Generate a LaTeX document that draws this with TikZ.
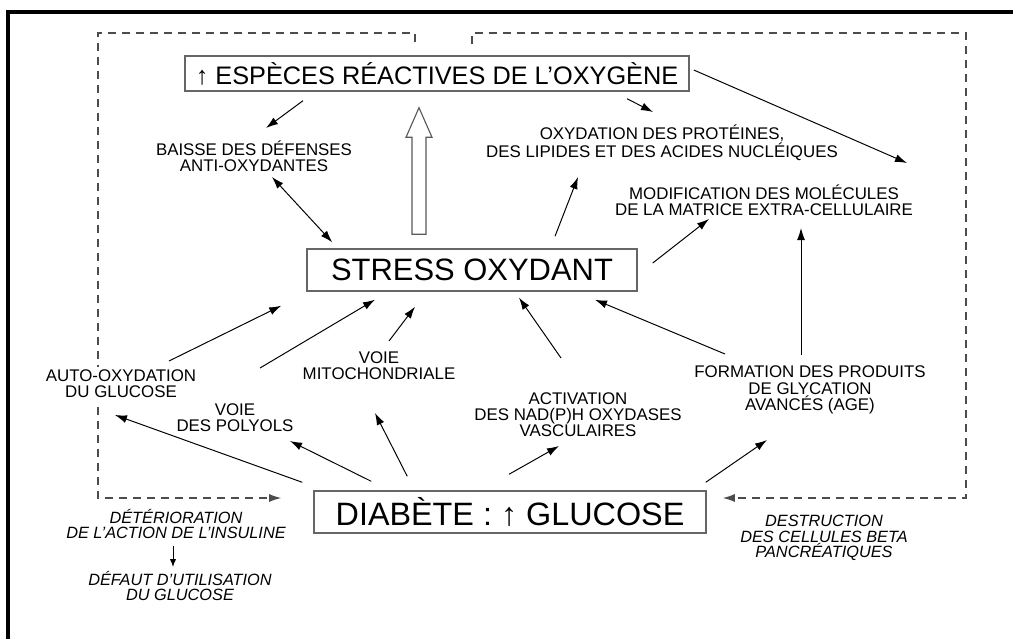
\documentclass[tikz,border=0pt]{standalone}
\usepackage{fontspec}
\setmainfont{Liberation Sans}
\usepackage{tikz}
\usetikzlibrary{calc}
\usetikzlibrary{positioning}
\usetikzlibrary{arrows.meta}

\begin{document}
\begin{tikzpicture}[x=0.025cm, y=-0.025cm,
	boite/.style={draw=black!60, line width=1pt, inner sep=0pt},
	etiq/.style={align=center, inner sep=0pt, font=\fontsize{12}{11.5}\selectfont},
	etiqit/.style={align=center, inner sep=0pt, font=\fontsize{11.6}{10.9}\selectfont\itshape},
	fleche/.style={-{Latex[length=3mm,width=2mm]}, line width=0.7pt},
	fleches/.style={{Latex[length=3mm,width=2mm]}-{Latex[length=3mm,width=2mm]}, line width=0.7pt},
	retour/.style={-{Latex[length=3mm,width=2mm]}, dash pattern=on 0.2cm off 0.15cm, line width=0.9pt, draw=black!70}]
				\useasboundingbox (0,0) rectangle (1013,639);
				\draw[line width=2.2pt] (8,639) -- (8,12) -- (1013,12);
				
				\node[boite, minimum width=12.6cm, minimum height=0.875cm, font=\fontsize{18}{18}\selectfont] (ero) at (437,73.5) {↑ ESPÈCES RÉACTIVES DE L'OXYGÈNE};
				\node[boite, minimum width=8.25cm, minimum height=1.05cm, font=\fontsize{22}{22}\selectfont] (stress) at (472,270) {STRESS OXYDANT\hspace{0.35cm}};
				\node[boite, minimum width=9.8cm, minimum height=1.05cm, font=\fontsize{23}{23}\selectfont] (diab) at (510,512) {DIABÈTE : ↑ GLUCOSE\hspace{0.45cm}};
				
				\coordinate (cg) at (98,33);
				\coordinate (cd) at (966,33);
				\draw[retour] ($(ero.north)+(-22,-13)$) |- (cg) |- ($(diab.west)+(-32,-14)$);
				\draw[retour] ($(ero.north)+(35,-11)$) |- (cd) |- ($(diab.east)+(16,-14)$);
				
				\node[etiq] (baisse) at (254,156) {BAISSE DES DÉFENSES\\ANTI-OXYDANTES};
				\node[etiq] (oxyd) at (662,143) {OXYDATION DES PROTÉINES,\\DES LIPIDES ET DES ACIDES NUCLÉIQUES};
				\node[etiq] (modif) at (764,200) {MODIFICATION DES MOLÉCULES\\DE LA MATRICE EXTRA-CELLULAIRE};
				\node[etiq, fill=white, inner sep=2pt] (auto) at (121,384) {AUTO-OXYDATION\\DU GLUCOSE};
				\node[etiq] (polyols) at (235,418) {VOIE\\DES POLYOLS};
				\node[etiq] (mito) at (379,366) {VOIE\\MITOCHONDRIALE};
				\node[etiq] (activ) at (578,415) {ACTIVATION\\DES NAD(P)H OXYDASES\\VASCULAIRES};
				\node[etiq] (form) at (810,390) {FORMATION DES PRODUITS\\DE GLYCATION\\AVANCÉS (AGE)};
				\node[etiqit] (deter) at (176,524) {DÉTÉRIORATION\\DE L'ACTION DE L'INSULINE};
				\node[etiqit] (defaut) at (180,586) {DÉFAUT D'UTILISATION\\DU GLUCOSE};
				\node[etiqit] (destr) at (824,538) {DESTRUCTION\\DES CELLULES BETA\\PANCRÉATIQUES};
				
				\coordinate (fb) at ($(stress.north)+(-53,-14)$);
				\filldraw[fill=white, draw=black!65, line width=0.8pt] ($(fb)+(-7,0)$) -- ($(fb)+(7,0)$) -- ++(0,-97) -- ++(6,0) -- ($(ero.south)+(-18,16)$) -- ($(fb)+(-13,-97)$) -- ++(6,0) -- cycle;
				
				\draw[fleche] ($(ero.south)+(-134,9)$) -- ($(baisse)+(12,-28)$);
				\draw[fleches] ($(baisse)+(18,21)$) -- ($(stress.north west)+(26,-6)$);
				\draw[fleche] ($(ero.south)+(190,7)$) -- ($(oxyd)+(-9,-31)$);
				\draw[fleche] ($(ero.east)+(4,-3.5)$) -- ($(modif)+(143,-37)$);
				\draw[fleche] ($(stress.north)+(83,-12)$) -- ($(oxyd)+(-84,34)$);
				\draw[fleche] ($(stress.east)+(15,-7)$) -- ($(modif)+(-55,19)$);
				\draw[fleche] ($(form)+(-9,-35)$) -- ($(modif)+(37,28)$);
				\draw[fleche] ($(form)+(-85,-36)$) -- ($(stress.south)+(123,8)$);
				\draw[fleche] ($(activ)+(-17,-57)$) -- ($(stress.south)+(47,6)$);
				\draw[fleche] ($(auto)+(48,-23)$) -- ($(stress.south west)+(-25,14)$);
				\draw[fleche] ($(polyols)+(25,-50)$) -- ($(stress.south)+(-97,8)$);
				\draw[fleche] ($(mito)+(10,-25)$) -- ($(stress.south)+(-57,15)$);
				\draw[fleche] ($(diab.north west)+(-11,-8)$) -- ($(auto)+(-6,31)$);
				\draw[fleche] ($(diab.north west)+(58,-9)$) -- ($(polyols)+(55,23)$);
				\draw[fleche] ($(diab.north west)+(94,-14)$) -- ($(mito)+(-4,47)$);
				\draw[fleche] ($(diab.north)+(-1,-16)$) -- ($(activ)+(-19,31)$);
				\draw[fleche] ($(diab.north east)+(-1,-8)$) -- ($(form)+(-43,50)$);
				\draw[-{Latex[length=2mm,width=1.6mm]}, line width=0.7pt] ($(deter)+(-3,22)$) -- ($(defaut)+(-7,-19)$);
			\end{tikzpicture}
\end{document}
